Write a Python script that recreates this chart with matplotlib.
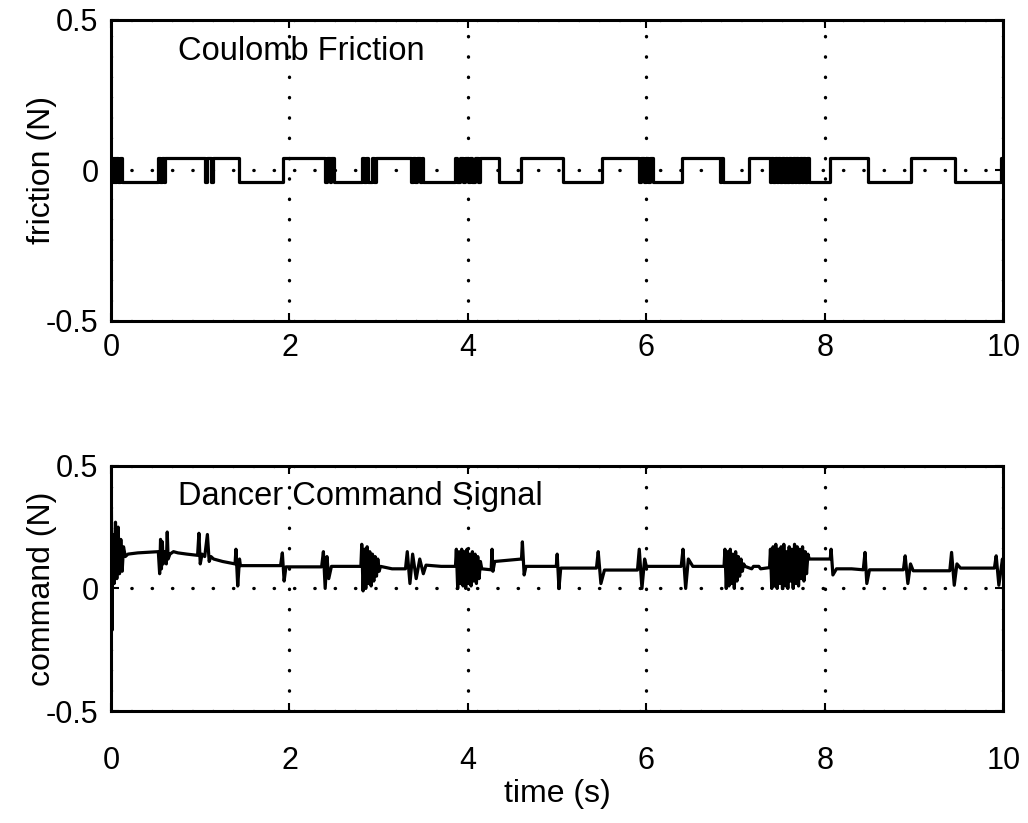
import matplotlib
matplotlib.use("Agg")
import matplotlib.pyplot as plt

plt.rcParams['font.family'] = ['Liberation Sans', 'DejaVu Sans']

# friction switching times (s) and level after each switch (N)
HI, LO = 0.04, -0.04
fric_t = [0.00, 0.02, 0.03, 0.05, 0.06, 0.08, 0.10, 0.12,
          0.53, 0.55, 0.57, 0.59, 0.60,
          1.05, 1.07, 1.12, 1.14,
          1.43, 1.93,
          2.40, 2.42, 2.45, 2.47, 2.50,
          2.81, 2.83, 2.86, 2.88, 2.92, 2.95, 2.97,
          3.36, 3.38, 3.41, 3.43, 3.46, 3.48, 3.50,
          3.86, 3.88, 3.91, 3.94, 3.97, 4.00, 4.02, 4.05, 4.08, 4.11, 4.13,
          4.35, 4.60, 5.06, 5.50,
          5.92, 5.94, 5.97, 5.99, 6.02, 6.04, 6.07,
          6.40, 6.82, 6.84, 6.86, 7.15,
          7.38, 7.40, 7.42, 7.44, 7.46, 7.48, 7.50, 7.52, 7.54, 7.56, 7.58, 7.60,
          7.62, 7.64, 7.66, 7.68, 7.70, 7.72, 7.74, 7.76, 7.78, 7.80, 7.82,
          8.06, 8.48, 8.96, 9.46, 9.97, 9.99, 10.0]
fric_v = [HI, LO, HI, LO, HI, LO, HI, LO,
          HI, LO, HI, LO, HI,
          LO, HI, LO, HI,
          LO, HI,
          LO, HI, LO, HI, LO,
          HI, LO, HI, LO, HI, LO, HI,
          LO, HI, LO, HI, LO, HI, LO,
          HI, LO, HI, LO, HI, LO, HI, LO, HI, LO, HI,
          LO, HI, LO, HI,
          LO, HI, LO, HI, LO, HI, LO,
          HI, LO, HI, LO, HI,
          LO, HI, LO, HI, LO, HI, LO, HI, LO, HI, LO, HI,
          LO, HI, LO, HI, LO, HI, LO, HI, LO, HI, LO,
          HI, LO, HI, LO, HI, LO, LO]

# dancer command signal breakpoints (s, N)
cmd_t = [0.000, 0.004, 0.012, 0.020, 0.035, 0.050, 0.065, 0.080, 0.095, 0.110, 0.125, 0.140, 0.160, 0.190,
         0.30, 0.53, 0.545, 0.555, 0.565, 0.575, 0.585, 0.60, 0.62, 0.63, 0.64, 0.66, 0.70, 0.75,
         0.85, 0.97, 0.985, 1.00, 1.02, 1.05, 1.08, 1.10, 1.12, 1.15,
         1.25, 1.39, 1.40, 1.42, 1.44, 1.45,
         1.70, 1.90, 1.92, 1.94, 1.96,
         2.20, 2.36, 2.38, 2.40, 2.42, 2.44, 2.47,
         2.65, 2.80,
         2.810, 2.825, 2.840, 2.855, 2.870, 2.885, 2.900, 2.915, 2.930, 2.945, 2.960, 2.975, 2.990, 3.005, 3.020,
         3.15, 3.30, 3.32, 3.35, 3.38, 3.42, 3.46, 3.50, 3.53,
         3.70, 3.86,
         3.870, 3.885, 3.900, 3.915, 3.930, 3.945, 3.960, 3.975, 3.990, 4.005,
         4.020, 4.035, 4.050, 4.065, 4.080, 4.095, 4.110, 4.125, 4.140, 4.155,
         4.26, 4.27, 4.28, 4.30, 4.45, 4.60, 4.61, 4.63, 4.65,
         4.80, 4.99, 5.00, 5.02, 5.04,
         5.25, 5.44, 5.46, 5.49, 5.53,
         5.70, 5.90, 5.92, 5.95, 5.98, 6.00,
         6.20, 6.39, 6.41, 6.44, 6.47, 6.52,
         6.70, 6.87,
         6.880, 6.895, 6.910, 6.925, 6.940, 6.955, 6.970, 6.985, 7.000, 7.015,
         7.030, 7.045, 7.060, 7.075, 7.090, 7.105,
         7.18, 7.20, 7.26, 7.28, 7.38,
         7.390, 7.405, 7.420, 7.435, 7.450, 7.465, 7.480, 7.495, 7.510, 7.525,
         7.540, 7.555, 7.570, 7.585, 7.600, 7.615, 7.630, 7.645, 7.660, 7.675,
         7.690, 7.705, 7.720, 7.735, 7.750, 7.765, 7.780, 7.795, 7.810, 7.825,
         7.95, 8.06, 8.07, 8.09, 8.13,
         8.30, 8.43, 8.45, 8.47, 8.50,
         8.70, 8.88, 8.90, 8.93, 8.96, 8.99,
         9.20, 9.40, 9.42, 9.45, 9.48, 9.52,
         9.70, 9.90, 9.92, 9.95, 9.99, 10.0]
cmd_v = [0.00, 0.35, -0.17, 0.22, 0.02, 0.27, 0.04, 0.25, 0.06, 0.20, 0.07, 0.17, 0.13, 0.14,
         0.145, 0.15, 0.06, 0.20, 0.08, 0.19, 0.10, 0.15, 0.10, 0.23, 0.12, 0.14, 0.15, 0.145,
         0.14, 0.135, 0.225, 0.10, 0.14, 0.13, 0.22, 0.11, 0.13, 0.12,
         0.11, 0.10, 0.16, 0.01, 0.12, 0.093,
         0.093, 0.093, 0.145, 0.03, 0.088,
         0.088, 0.088, 0.15, 0.00, 0.13, 0.04, 0.09,
         0.09, 0.09,
         0.18, -0.01, 0.16, 0.00, 0.17, 0.02, 0.15, 0.01, 0.14, 0.03, 0.13, 0.05, 0.12, 0.07, 0.09,
         0.08, 0.08, 0.15, 0.02, 0.14, 0.04, 0.12, 0.06, 0.095,
         0.09, 0.09,
         0.16, 0.00, 0.15, 0.02, 0.16, 0.01, 0.15, 0.00, 0.16, 0.02,
         0.14, 0.01, 0.15, 0.03, 0.14, 0.02, 0.13, 0.04, 0.11, 0.08,
         0.076, 0.16, 0.07, 0.11, 0.115, 0.12, 0.19, 0.055, 0.09,
         0.09, 0.09, 0.14, 0.00, 0.083,
         0.083, 0.083, 0.15, 0.02, 0.075,
         0.075, 0.075, 0.16, 0.00, 0.12, 0.09,
         0.09, 0.09, 0.16, 0.00, 0.12, 0.09,
         0.09, 0.09,
         0.16, 0.00, 0.15, 0.01, 0.16, 0.02, 0.14, 0.00, 0.15, 0.03,
         0.13, 0.05, 0.12, 0.07, 0.10, 0.09,
         0.08, 0.09, 0.09, 0.08, 0.085,
         0.16, 0.00, 0.17, 0.01, 0.18, 0.00, 0.16, 0.02, 0.17, 0.00,
         0.18, 0.01, 0.15, 0.00, 0.17, 0.03, 0.16, 0.00, 0.18, 0.02,
         0.17, 0.01, 0.16, 0.04, 0.17, 0.03, 0.15, 0.06, 0.14, 0.12,
         0.12, 0.12, 0.16, 0.055, 0.08,
         0.08, 0.076, 0.147, 0.02, 0.076,
         0.076, 0.076, 0.133, 0.02, 0.10, 0.072,
         0.072, 0.072, 0.147, 0.013, 0.10, 0.083,
         0.083, 0.083, 0.133, 0.013, 0.12, 0.08]

xticks = [0, 2, 4, 6, 8, 10]
yticks = [-0.5, 0, 0.5]

FS = 22
fig = plt.figure(figsize=(10.28, 8.23), dpi=100)
ax1 = fig.add_axes([0.108, 0.610, 0.868, 0.366])
ax2 = fig.add_axes([0.108, 0.136, 0.868, 0.298])


def style(ax, ylabel, title, ty):
    ax.set_xlim(0, 10)
    ax.set_ylim(-0.5, 0.5)
    ax.set_xticks(xticks)
    ax.set_yticks(yticks)
    ax.set_yticklabels(['-0.5', '0', '0.5'])
    ax.tick_params(direction='in', length=6, width=1.5, labelsize=FS, pad=9,
                   top=True, right=True)
    for sp in ax.spines.values():
        sp.set_linewidth(2.2)
    ax.grid(True, color='k', linestyle=(0, (0.1, 6)), linewidth=2.4,
            dash_capstyle='round')
    ax.set_ylabel(ylabel, fontsize=FS + 1, labelpad=-8)
    ax.text(0.075, ty, title, transform=ax.transAxes, fontsize=FS + 1.5,
            va='center', ha='left')


ax1.step(fric_t, fric_v, where='post', color='k', linewidth=2.3)
style(ax1, 'friction (N)', 'Coulomb Friction', 0.895)

ax2.plot(cmd_t, cmd_v, color='k', linewidth=2.3)
style(ax2, 'command (N)', 'Dancer Command Signal', 0.875)
ax2.tick_params(axis='x', pad=25)
ax2.set_xlabel('time (s)', fontsize=FS + 1, labelpad=2)

fig.savefig('out.png', dpi=100, facecolor='white')
